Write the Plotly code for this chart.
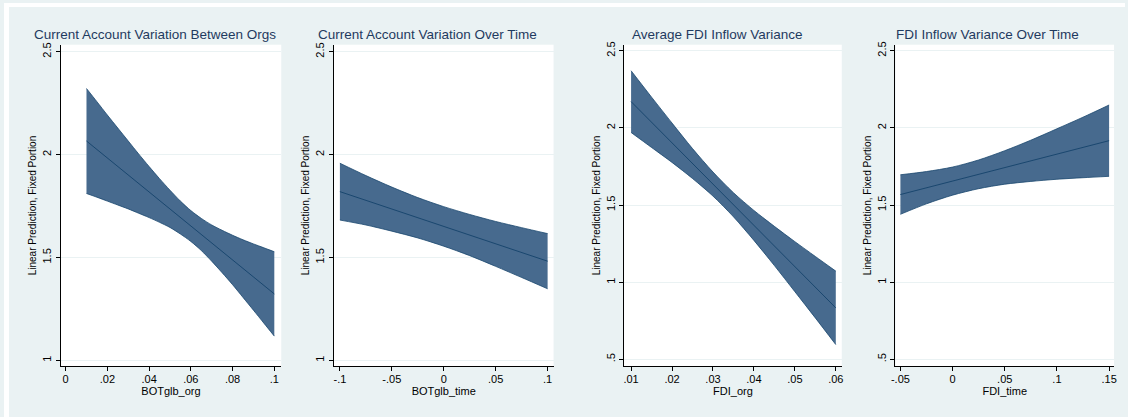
import plotly.graph_objects as go

# ---------------- data ----------------
titles = ["Current Account Variation Between Orgs", "Current Account Variation Over Time",
          "Average FDI Inflow Variance", "FDI Inflow Variance Over Time"]
x_titles = ["BOTglb_org", "BOTglb_time", "FDI_org", "FDI_time"]
y_title = "Linear Prediction, Fixed Portion"

# Panel 1: BOTglb_org
p1_x = [0.010, 0.015, 0.020, 0.025, 0.030, 0.035, 0.040, 0.045, 0.050, 0.055,
        0.060, 0.065, 0.070, 0.075, 0.080, 0.085, 0.090, 0.095, 0.100]
p1_fit = [2.066, 2.025, 1.983, 1.942, 1.901, 1.859, 1.818, 1.777, 1.736, 1.694,
          1.653, 1.612, 1.570, 1.529, 1.488, 1.446, 1.405, 1.364, 1.323]
p1_upper = [2.321, 2.257, 2.192, 2.129, 2.066, 2.003, 1.942, 1.883, 1.827, 1.774,
            1.728, 1.690, 1.658, 1.632, 1.608, 1.586, 1.566, 1.547, 1.528]
p1_lower = [1.811, 1.793, 1.774, 1.755, 1.736, 1.715, 1.694, 1.671, 1.646, 1.614,
            1.578, 1.534, 1.482, 1.426, 1.368, 1.306, 1.244, 1.181, 1.118]

# Panel 2: BOTglb_time
p2_x = [-0.1, -0.075, -0.05, -0.025, 0.0, 0.025, 0.05, 0.075, 0.1]
p2_fit = [1.820, 1.778, 1.735, 1.693, 1.651, 1.609, 1.566, 1.524, 1.482]
p2_upper = [1.958, 1.898, 1.842, 1.791, 1.747, 1.709, 1.675, 1.645, 1.616]
p2_lower = [1.682, 1.658, 1.628, 1.595, 1.555, 1.509, 1.457, 1.403, 1.348]

# Panel 3: FDI_org
p3_x = [0.010, 0.015, 0.020, 0.025, 0.030, 0.035, 0.040, 0.045, 0.050, 0.055, 0.060]
p3_fit = [2.170, 2.036, 1.903, 1.769, 1.636, 1.502, 1.368, 1.235, 1.101, 0.968, 0.834]
p3_upper = [2.370, 2.199, 2.031, 1.866, 1.714, 1.580, 1.465, 1.362, 1.263, 1.167, 1.072]
p3_lower = [1.970, 1.873, 1.776, 1.672, 1.558, 1.424, 1.271, 1.108, 0.939, 0.769, 0.596]

# Panel 4: FDI_time
p4_x = [-0.05, -0.025, 0.0, 0.025, 0.05, 0.075, 0.1, 0.125, 0.15]
p4_fit = [1.568, 1.612, 1.655, 1.699, 1.743, 1.786, 1.830, 1.873, 1.917]
p4_upper = [1.696, 1.717, 1.746, 1.792, 1.852, 1.920, 1.994, 2.069, 2.148]
p4_lower = [1.440, 1.508, 1.564, 1.606, 1.635, 1.653, 1.667, 1.677, 1.686]

# tick values / labels
p1_xticks = [0, 0.02, 0.04, 0.06, 0.08, 0.1]
p1_xlabels = ["0", ".02", ".04", ".06", ".08", ".1"]
p2_xticks = [-0.1, -0.05, 0, 0.05, 0.1]
p2_xlabels = ["-.1", "-.05", "0", ".05", ".1"]
p3_xticks = [0.01, 0.02, 0.03, 0.04, 0.05, 0.06]
p3_xlabels = [".01", ".02", ".03", ".04", ".05", ".06"]
p4_xticks = [-0.05, 0, 0.05, 0.1, 0.15]
p4_xlabels = ["-.05", "0", ".05", ".1", ".15"]
ya_ticks = [1, 1.5, 2, 2.5]
ya_labels = ["1", "1.5", "2", "2.5"]
yb_ticks = [0.5, 1, 1.5, 2, 2.5]
yb_labels = [".5", "1", "1.5", "2", "2.5"]

# ---------------- layout geometry ----------------
W, H = 1128, 417
BG = "#EAF2F3"
FILL = "#476A8E"
LINE = "#1A476F"
TITLE_C = "#1F3A5F"
FONT = "Liberation Sans, Arial, sans-serif"

panels = [
    dict(x=p1_x, fit=p1_fit, up=p1_upper, lo=p1_lower, px=(57, 279), tc=152,
         xr=[-0.00238, 0.10333], yr=[0.9711, 2.5338], xt=p1_xticks, xl=p1_xlabels, yt=ya_ticks, yl=ya_labels),
    dict(x=p2_x, fit=p2_fit, up=p2_upper, lo=p2_lower, px=(332, 553), tc=426,
         xr=[-0.10574, 0.10574], yr=[0.9711, 2.5338], xt=p2_xticks, xl=p2_xlabels, yt=ya_ticks, yl=ya_labels),
    dict(x=p3_x, fit=p3_fit, up=p3_upper, lo=p3_lower, px=(624, 843), tc=718,
         xr=[0.0083, 0.06146], yr=[0.455, 2.5386], xt=p3_xticks, xl=p3_xlabels, yt=yb_ticks, yl=yb_labels),
    dict(x=p4_x, fit=p4_fit, up=p4_upper, lo=p4_lower, px=(897, 1117), tc=990,
         xr=[-0.05476, 0.15476], yr=[0.455, 2.5386], xt=p4_xticks, xl=p4_xlabels, yt=yb_ticks, yl=yb_labels),
]

top_px, bot_px = 42, 366
ydom = [1 - bot_px / H, 1 - top_px / H]

fig = go.Figure()
annotations = []
shapes = [
    dict(type="rect", xref="paper", yref="paper", x0=0, x1=1, y0=1 - 4 / H, y1=1,
         fillcolor="white", line=dict(width=0), layer="below"),
    dict(type="rect", xref="paper", yref="paper", x0=0, x1=5 / W, y0=0, y1=1,
         fillcolor="white", line=dict(width=0), layer="below"),
]
for i, p in enumerate(panels, start=1):
    xa = "x" if i == 1 else f"x{i}"
    ya = "y" if i == 1 else f"y{i}"
    # confidence band: lower bound, then upper bound filled down to it
    fig.add_trace(go.Scatter(
        x=p["x"], y=p["lo"], mode="lines",
        line=dict(color=LINE, width=0.8, shape="spline", smoothing=0.8),
        xaxis=xa, yaxis=ya, showlegend=False, hoverinfo="skip"))
    fig.add_trace(go.Scatter(
        x=p["x"], y=p["up"], mode="lines", fill="tonexty", fillcolor=FILL,
        line=dict(color=LINE, width=0.8, shape="spline", smoothing=0.8),
        xaxis=xa, yaxis=ya, showlegend=False, hoverinfo="skip"))
    # fitted line
    fig.add_trace(go.Scatter(
        x=p["x"], y=p["fit"], mode="lines",
        line=dict(color=LINE, width=1), xaxis=xa, yaxis=ya, showlegend=False))

    xdom = [p["px"][0] / W, p["px"][1] / W]
    axis_common = dict(showline=True, linecolor="black", linewidth=1.2, ticks="outside",
                       ticklen=4, tickwidth=1, tickcolor="black", zeroline=False,
                       tickfont=dict(family=FONT, size=11, color="black"))
    fig.layout[f"xaxis{'' if i == 1 else i}"] = dict(
        domain=xdom, anchor=ya, range=p["xr"], tickmode="array", tickvals=p["xt"], ticktext=p["xl"],
        showgrid=False, ticklabelstandoff=-2,
        title=dict(text=x_titles[i - 1], font=dict(family=FONT, size=11, color="black"), standoff=0),
        **axis_common)
    fig.layout[f"yaxis{'' if i == 1 else i}"] = dict(
        domain=ydom, anchor=xa, range=p["yr"], tickmode="array", tickvals=p["yt"], ticktext=p["yl"],
        tickangle=-90, showgrid=True, gridcolor=BG, gridwidth=1,
        title=dict(text=y_title, font=dict(family=FONT, size=10, color="black"), standoff=2),
        **axis_common)
    annotations.append(dict(
        text=titles[i - 1], xref="paper", yref="paper",
        x=p["tc"] / W, y=1 - 32 / H,
        xanchor="center", yanchor="middle", showarrow=False,
        font=dict(family=FONT, size=13.5, color=TITLE_C)))

fig.update_layout(
    width=W, height=H, margin=dict(l=0, r=0, t=0, b=0),
    paper_bgcolor=BG, plot_bgcolor="white",
    annotations=annotations, showlegend=False, shapes=shapes,
)

fig.write_html("out.html")
